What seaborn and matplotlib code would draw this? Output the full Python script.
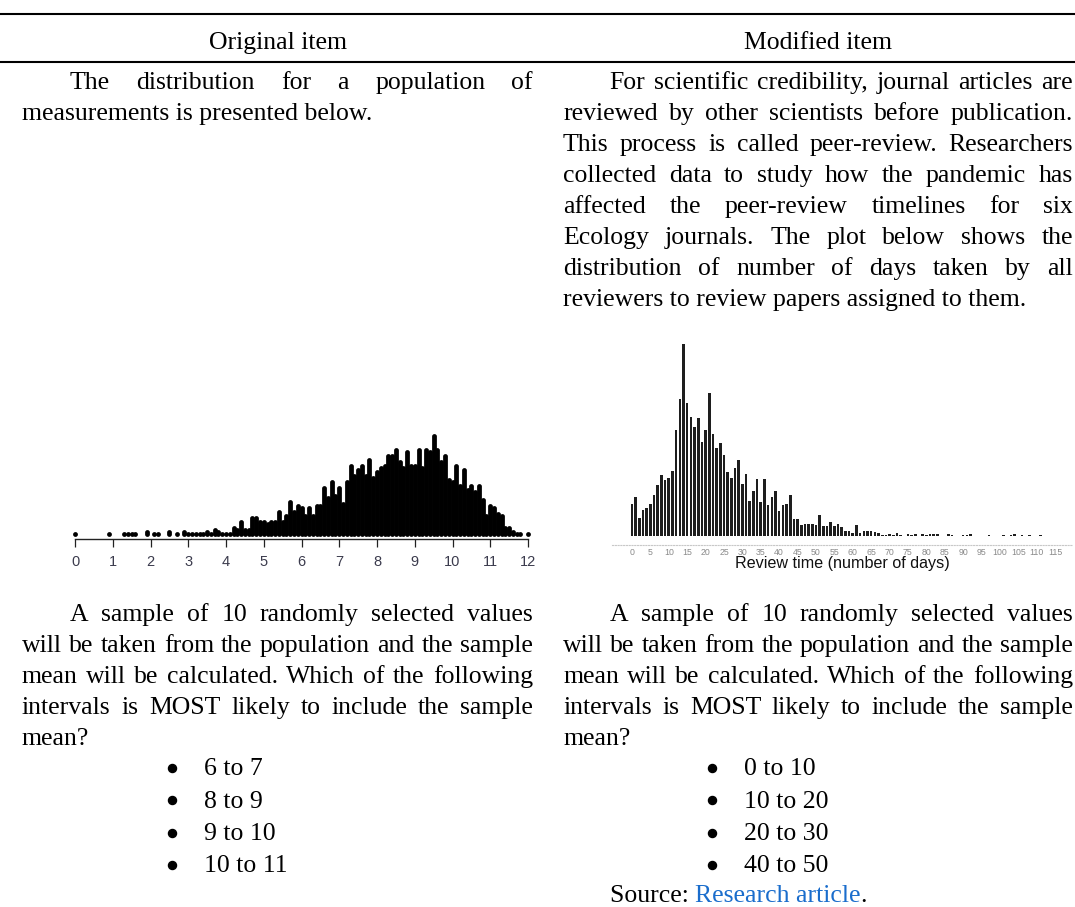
import matplotlib
matplotlib.use("Agg")
import matplotlib.pyplot as plt
from matplotlib.lines import Line2D
import seaborn as sns
import pandas as pd
import numpy as np

W, H = 1075, 907

# --- dados: grafico da esquerda (populacao, contagem por classe de 0.1) ---
pop_valores = np.round(np.arange(0, 121) / 10, 1)
pop_contagens = [
    1, 0, 0, 0, 0, 0, 0, 0, 0, 1,
    0, 0, 0, 1, 1, 1, 1, 0, 0, 2,
    0, 1, 1, 0, 0, 2, 0, 1, 0, 2,
    1, 1, 1, 1, 1, 2, 1, 3, 2, 1,
    1, 1, 4, 3, 7, 3, 3, 9, 9, 7,
    7, 6, 7, 7, 12, 7, 10, 17, 12, 15,
    14, 10, 14, 10, 15, 15, 24, 19, 27, 20,
    24, 16, 27, 35, 30, 33, 35, 30, 38, 29,
    32, 34, 35, 40, 40, 43, 37, 34, 42, 35,
    35, 43, 34, 43, 42, 50, 43, 37, 40, 28,
    27, 35, 25, 33, 23, 25, 22, 25, 18, 10,
    15, 14, 11, 10, 4, 4, 2, 1, 1, 0,
    1,
]

# --- dados: grafico da direita (dias de revisao) ---
dias_revisao = list(range(0, 113))
contagem_revisao = [
    32, 39, 18, 26, 28, 32, 41, 51, 61, 56,
    58, 65, 106, 137, 192, 133, 119, 109, 118, 94,
    106, 143, 102, 88, 93, 81, 64, 58, 68, 76,
    52, 62, 35, 45, 57, 34, 57, 31, 39, 45,
    25, 31, 32, 41, 17, 17, 11, 12, 12, 12,
    11, 21, 10, 10, 14, 10, 12, 9, 5, 5,
    3, 11, 3, 5, 5, 5, 4, 3, 1, 1,
    2, 1, 3, 1, 0, 2, 1, 2, 0, 2,
    1, 2, 2, 2, 0, 0, 2, 1, 0, 0,
    1, 1, 2, 0, 0, 0, 0, 1, 0, 0,
    0, 1, 0, 1, 2, 0, 1, 0, 1, 0,
    0, 1, 0,
]
ticks_revisao = list(range(0, 116, 5))
rotulo_revisao = "Review time (number of days)"

# --- textos ---
cabecalhos = ["Original item", "Modified item"]
texto_esq_1 = ["The distribution for a population of",
               "measurements is presented below."]
texto_dir_1 = ["For scientific credibility, journal articles are",
               "reviewed by other scientists before publication.",
               "This process is called peer-review. Researchers",
               "collected data to study how the pandemic has",
               "affected the peer-review timelines for six",
               "Ecology journals. The plot below shows the",
               "distribution of number of days taken by all",
               "reviewers to review papers assigned to them."]
texto_pergunta = ["A sample of 10 randomly selected values",
                  "will be taken from the population and the sample",
                  "mean will be calculated. Which of the following",
                  "intervals is MOST likely to include the sample",
                  "mean?"]
opcoes_esq = ["6 to 7", "8 to 9", "9 to 10", "10 to 11"]
opcoes_dir = ["0 to 10", "10 to 20", "20 to 30", "40 to 50"]

sns.set_theme(style="white")
plt.rcParams['font.family'] = ['Liberation Serif', 'DejaVu Serif']
plt.rcParams['text.color'] = 'black'

FONTE = 18.5
SERIF = ['Liberation Serif', 'DejaVu Serif']
SANS = ['Liberation Sans', 'DejaVu Sans']

fig = plt.figure(figsize=(W / 100, H / 100), dpi=100)
fig.patch.set_facecolor("white")
renderer = fig.canvas.get_renderer()


def fx(x):
    return x / W


def fy(y):
    return 1 - y / H


def escreve(x, y, s, **kw):
    kw.setdefault("fontsize", FONTE)
    kw.setdefault("family", SERIF)
    kw.setdefault("color", "black")
    return fig.text(fx(x), fy(y), s, va="baseline", **kw)


def justifica(linha, x0, x1, y):
    palavras = linha.split()
    textos = [escreve(0, y, p) for p in palavras]
    larg = [t.get_window_extent(renderer).width for t in textos]
    gap = (x1 - x0 - sum(larg)) / max(len(palavras) - 1, 1)
    x = x0
    for t, w in zip(textos, larg):
        t.set_x(fx(x))
        x += w + gap


def paragrafo(linhas, x0, x1, y0, recuo, passo=31):
    for i, linha in enumerate(linhas):
        ini = x0 + recuo if i == 0 else x0
        y = y0 + i * passo
        if i == len(linhas) - 1:
            escreve(ini, y, linha)
        else:
            justifica(linha, ini, x1, y)


def marcador(x, y):
    fig.add_artist(Line2D([fx(x)], [fy(y)], marker="o", markersize=5.8,
                          color="black", linestyle="none",
                          transform=fig.transFigure))


# regras da tabela
for yr in (13.5, 61.8):
    fig.add_artist(Line2D([0, 1], [fy(yr), fy(yr)], color="black", lw=1.5,
                          transform=fig.transFigure))

escreve(278, 49, cabecalhos[0], ha="center")
escreve(818, 49, cabecalhos[1], ha="center")

paragrafo(texto_esq_1, 22, 533, 89, 48)
paragrafo(texto_dir_1, 563, 1073, 89, 46)
paragrafo(texto_pergunta, 22, 533, 621, 48)
paragrafo(texto_pergunta, 563, 1073, 621, 47)

for i, (a, b) in enumerate(zip(opcoes_esq, opcoes_dir)):
    y = 775 + i * 32.5
    marcador(172, y - 7.5)
    escreve(204, y, a)
    marcador(712, y - 7.5)
    escreve(744, y, b)

x = 610
for parte, cor, ajuste in (("Source: ", "black", 0), ("Research article", "#1a6dcc", -1),
                           (".", "black", 0)):
    t = escreve(x, 902, parte, color=cor)
    x += t.get_window_extent(renderer).width + ajuste

# --- grafico de pontos da esquerda ---
df_pop = pd.DataFrame({
    "valor": np.repeat(pop_valores, pop_contagens),
    "nivel": np.concatenate([np.arange(c) for c in pop_contagens]),
})
axL = fig.add_axes([fx(75), fy(539), 453 / W, 119 / H])
axL.patch.set_alpha(0)
sns.scatterplot(data=df_pop, x="valor", y="nivel", ax=axL, color="black",
                s=12, linewidth=0, clip_on=False, legend=False)
axL.set_xlim(0, 12)
axL.set_ylim(-2.5, 57)
axL.set_xticks(range(13))
axL.set_yticks([])
axL.set_xlabel("")
axL.set_ylabel("")
for lado in ("top", "left", "right"):
    axL.spines[lado].set_visible(False)
axL.spines["bottom"].set_color("#222222")
axL.spines["bottom"].set_linewidth(1)
axL.tick_params(axis="x", direction="out", length=6, width=0.9, color="#222222",
                labelsize=10.5, labelcolor="#3b3b4d", pad=5.5, bottom=True)
for lab in axL.get_xticklabels():
    lab.set_family(SANS)

# --- grafico da direita ---
axR = fig.add_axes([fx(612), fy(545), 460 / W, 210 / H])
axR.patch.set_alpha(0)
sns.barplot(x=dias_revisao, y=contagem_revisao, native_scale=True, width=0.7,
            color="#1e1e1e", saturation=1, linewidth=0, errorbar=None, ax=axR)
axR.set_xlim(-5.43, 119.57)
axR.set_ylim(-9, 201)
axR.set_xticks(ticks_revisao)
axR.set_xticklabels([str(t) for t in ticks_revisao])
axR.set_yticks([])
axR.set_ylabel("")
for lado in ("top", "left", "right"):
    axR.spines[lado].set_visible(False)
axR.spines["bottom"].set_linestyle((0, (1, 1.5)))
axR.spines["bottom"].set_color("#c8c8c8")
axR.spines["bottom"].set_linewidth(0.8)
axR.tick_params(axis="x", length=0, labelsize=6.3, labelcolor="#8a8a8a", pad=2)
for lab in axR.get_xticklabels():
    lab.set_family(SANS)
axR.set_xlabel(rotulo_revisao, fontsize=11.6, family=SANS, color="#111111", labelpad=-0.5)

fig.savefig("out.png", dpi=100, facecolor="white")
